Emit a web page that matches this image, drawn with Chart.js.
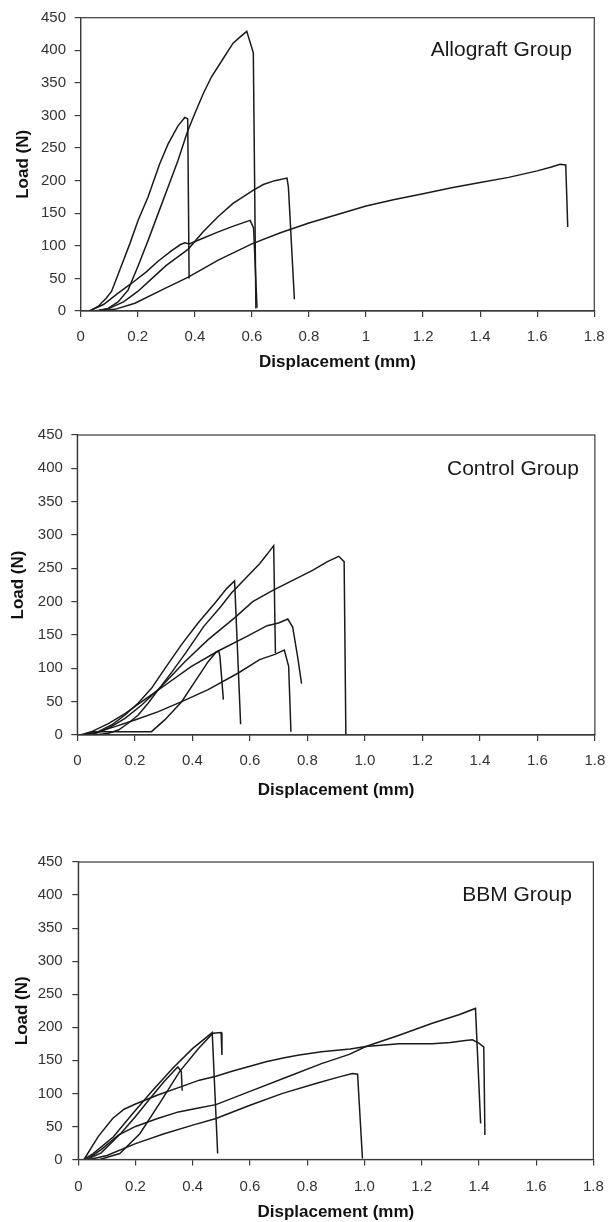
<!DOCTYPE html>
<html>
<head>
<meta charset="utf-8">
<script src="https://cdn.jsdelivr.net/npm/chart.js@4.4.1/dist/chart.umd.min.js"></script>
<style>
  html, body { margin: 0; padding: 0; background: #fff; }
  body { position: relative; width: 616px; height: 1222px; overflow: hidden; }
  canvas { position: absolute; left: 0; }
</style>
</head>
<body>
<canvas id="allograft" width="616" height="390" style="top:0"></canvas>
<canvas id="control" width="616" height="410" style="top:400px"></canvas>
<canvas id="bbm" width="616" height="382" style="top:840px"></canvas>
<script>
// ── tick labels ──
const ALLO_X_TICKS = ['0', '0.2', '0.4', '0.6', '0.8', '1', '1.2', '1.4', '1.6', '1.8']
const GROUP_X_TICKS = ['0', '0.2', '0.4', '0.6', '0.8', '1.0', '1.2', '1.4', '1.6', '1.8']

// ── Allograft group: displacement (mm) / load (N) per specimen ──
const alloA_x = [0.06, 0.096, 0.131, 0.166, 0.2, 0.236, 0.271, 0.306, 0.341, 0.374, 0.4, 0.429, 0.458, 0.499, 0.534, 0.56, 0.582, 0.605, 0.614]
const alloA_y = [0, 4, 14, 32, 68, 108, 149, 190, 231, 275, 303, 333, 359, 387, 411, 421, 429, 396, 4]
const alloB_x = [0.032, 0.061, 0.09, 0.108, 0.137, 0.172, 0.201, 0.236, 0.277, 0.306, 0.341, 0.365, 0.375, 0.38]
const alloB_y = [0, 7, 20, 30, 63, 103, 139, 175, 226, 256, 284, 297, 295, 50]
const alloC_x = [0.03, 0.08, 0.13, 0.18, 0.23, 0.27, 0.32, 0.35, 0.365, 0.38, 0.42, 0.48, 0.54, 0.594, 0.606, 0.618]
const alloC_y = [0, 10, 27, 43, 60, 76, 93, 102, 104.5, 103, 110, 121, 131, 139, 127, 5]
const alloD_x = [0.05, 0.1, 0.15, 0.2, 0.25, 0.3, 0.35, 0.377, 0.43, 0.482, 0.534, 0.604, 0.64, 0.68, 0.723, 0.728, 0.749]
const alloD_y = [0, 4, 14, 30, 50, 70, 86, 95, 122, 145, 165, 185, 194, 200, 204, 190, 18]
const alloE_x = [0.06, 0.12, 0.19, 0.283, 0.377, 0.482, 0.6, 0.7, 0.8, 0.9, 1.0, 1.1, 1.2, 1.3, 1.4, 1.5, 1.6, 1.65, 1.68, 1.7, 1.707]
const alloE_y = [0, 2.5, 12, 32, 52, 78, 103, 120, 135, 148, 161, 171, 180, 189, 197, 205, 215, 221, 225, 224, 129]

// ── Control group ──
const ctrl1_x = [0.01, 0.05, 0.258, 0.305, 0.363, 0.409, 0.455, 0.484, 0.492, 0.496, 0.508]
const ctrl1_y = [0, 5, 5, 23, 50, 80, 110, 125, 126, 118, 53]
const ctrl2_x = [0.027, 0.073, 0.119, 0.166, 0.212, 0.258, 0.305, 0.363, 0.42, 0.479, 0.52, 0.547, 0.568]
const ctrl2_y = [0, 5, 15, 30, 48, 70, 100, 136, 168, 198, 220, 231, 16]
const ctrl3_x = [0.061, 0.108, 0.143, 0.177, 0.212, 0.247, 0.282, 0.33, 0.38, 0.44, 0.5, 0.536, 0.587, 0.634, 0.66, 0.683, 0.689]
const ctrl3_y = [0, 2.5, 7.5, 17.6, 30, 48, 68, 95, 125, 163, 193, 213, 236, 257, 271, 284, 123]
const ctrl4_x = [0.02, 0.061, 0.131, 0.2, 0.282, 0.363, 0.455, 0.56, 0.634, 0.687, 0.72, 0.735, 0.743]
const ctrl4_y = [0, 3.5, 12.6, 22.6, 35, 50, 68, 93, 113, 121, 127.5, 103, 5]
const ctrl5_x = [0.02, 0.05, 0.108, 0.166, 0.224, 0.316, 0.397, 0.49, 0.59, 0.66, 0.7, 0.732, 0.749, 0.766, 0.78]
const ctrl5_y = [0, 5, 17, 32, 50, 78, 103, 126, 148, 164, 168, 174, 162, 118, 77]
const ctrl6_x = [0.05, 0.108, 0.166, 0.224, 0.293, 0.374, 0.455, 0.548, 0.61, 0.68, 0.749, 0.818, 0.87, 0.909, 0.928, 0.934]
const ctrl6_y = [0, 10, 25, 45, 73, 110, 143, 176, 200, 217, 232, 247, 260, 268, 260, 0]

// ── BBM group ──
const bbmA_x = [0.03, 0.08, 0.15, 0.2, 0.25, 0.3, 0.33, 0.348, 0.36, 0.363]
const bbmA_y = [0, 10, 40, 65, 92, 118, 132, 140, 133, 104]
const bbmB_x = [0.02, 0.052, 0.122, 0.191, 0.261, 0.33, 0.4, 0.44, 0.468, 0.487]
const bbmB_y = [0, 9, 34, 70, 105, 138, 168, 182, 192, 9]
const bbmC_x = [0.075, 0.145, 0.215, 0.284, 0.354, 0.42, 0.47, 0.499, 0.502]
const bbmC_y = [0, 9, 39, 85, 133, 168, 191, 192, 158]
const bbmD_x = [0.04, 0.1, 0.2, 0.3, 0.4, 0.481, 0.6, 0.714, 0.83, 0.912, 0.958, 0.976, 0.993]
const bbmD_y = [0, 6, 24, 39, 52, 62, 82, 100, 115, 125, 130, 129, 1.5]
const bbmE_x = [0.03, 0.08, 0.14, 0.2, 0.277, 0.35, 0.42, 0.481, 0.6, 0.743, 0.85, 0.947, 1.005, 1.121, 1.237, 1.33, 1.388, 1.406]
const bbmE_y = [0, 15, 37, 50, 62, 72, 78, 83, 103, 127, 145, 159, 171, 188, 206, 219, 228.5, 54.5]
const bbmF_x = [0.02, 0.07, 0.12, 0.16, 0.2, 0.28, 0.365, 0.423, 0.481, 0.54, 0.6, 0.656, 0.72, 0.772, 0.85, 0.95, 1.005, 1.121, 1.237, 1.3, 1.353, 1.377, 1.4, 1.417, 1.421]
const bbmF_y = [0, 35, 62, 76, 84, 98, 111, 120, 126, 134, 141, 148, 154, 158, 163, 167, 171, 175, 175, 177, 180, 181, 176, 170, 37]

// ── styling ──
const FONT = "'Liberation Sans', Arial, Helvetica, sans-serif"
const LINE = '#1a1a1a'
const AXIS = '#3a3a3a'
const TICK_COLOR = '#333'

function drawPanel(id, curves, p) {
  const frame = {
    id: 'frame',
    afterDraw(chart) {
      const { ctx, chartArea: a } = chart
      ctx.save()
      ctx.strokeStyle = AXIS
      ctx.lineWidth = 1.2
      ctx.strokeRect(a.left, a.top, a.right - a.left, a.bottom - a.top)
      ctx.fillStyle = '#1a1a1a'
      ctx.font = '21px ' + FONT
      ctx.textAlign = 'right'
      ctx.textBaseline = 'alphabetic'
      ctx.fillText(p.label, a.right - p.labelDx, a.top + p.labelDy)
      ctx.restore()
    }
  }

  new Chart(document.getElementById(id), {
    type: 'scatter',
    data: {
      datasets: curves.map(([xs, ys]) => ({
        data: xs.map((x, i) => ({ x, y: ys[i] })),
        showLine: true,
        borderColor: LINE,
        borderWidth: 1.5,
        pointRadius: 0,
        fill: false,
      }))
    },
    options: {
      responsive: false,
      animation: false,
      events: [],
      layout: { padding: { top: p.top, right: p.right, left: 0, bottom: 0 } },
      plugins: { legend: { display: false }, tooltip: { enabled: false } },
      scales: {
        x: {
          type: 'linear', min: 0, max: 1.8,
          afterFit: s => { s.height = p.xHeight },
          grid: { drawOnChartArea: false, drawTicks: true, tickLength: 6, color: AXIS, lineWidth: 1.2 },
          border: { display: true, color: AXIS, width: 1.2 },
          ticks: {
            stepSize: 0.2, autoSkip: false, maxRotation: 0, padding: p.xTickPad,
            color: TICK_COLOR, font: { family: FONT, size: 15 },
            callback: (v, i) => p.xTicks[i]
          },
          title: {
            display: true, text: 'Displacement (mm)', color: '#111',
            font: { family: FONT, size: 17, weight: 'bold', lineHeight: 1 },
            padding: { top: 0, bottom: p.xTitlePad }
          }
        },
        y: {
          type: 'linear', min: 0, max: 450,
          afterFit: s => { s.width = p.yWidth },
          grid: { drawOnChartArea: false, drawTicks: true, tickLength: 6, color: AXIS, lineWidth: 1.2 },
          border: { display: true, color: AXIS, width: 1.2 },
          ticks: { stepSize: 50, padding: p.yTickPad, color: TICK_COLOR, font: { family: FONT, size: 15 } },
          title: {
            display: true, text: 'Load (N)', color: '#111',
            font: { family: FONT, size: 17, weight: 'bold', lineHeight: 1 },
            padding: { top: p.yTitlePad, bottom: 0 }
          }
        }
      }
    },
    plugins: [frame]
  })
}

drawPanel('allograft', [
  [alloA_x, alloA_y], [alloB_x, alloB_y], [alloC_x, alloC_y], [alloD_x, alloD_y], [alloE_x, alloE_y]
], {
  top: 17, right: 19.6, yWidth: 80.7, xHeight: 79,
  xTickPad: 11.3, yTickPad: 8.7, yTitlePad: 15, xTitlePad: 19.5,
  xTicks: ALLO_X_TICKS, label: 'Allograft Group', labelDx: 22.4, labelDy: 38
})

drawPanel('control', [
  [ctrl1_x, ctrl1_y], [ctrl2_x, ctrl2_y], [ctrl3_x, ctrl3_y], [ctrl4_x, ctrl4_y], [ctrl5_x, ctrl5_y], [ctrl6_x, ctrl6_y]
], {
  top: 35, right: 19.8, yWidth: 77.3, xHeight: 75,
  xTickPad: 10.7, yTickPad: 8.4, yTitlePad: 9.5, xTitlePad: 11.5,
  xTicks: GROUP_X_TICKS, label: 'Control Group', labelDx: 16, labelDy: 40
})

drawPanel('bbm', [
  [bbmA_x, bbmA_y], [bbmB_x, bbmB_y], [bbmC_x, bbmC_y], [bbmD_x, bbmD_y], [bbmE_x, bbmE_y], [bbmF_x, bbmF_y]
], {
  top: 22, right: 20.2, yWidth: 78.3, xHeight: 62.5,
  xTickPad: 12.2, yTickPad: 9.6, yTitlePad: 14, xTitlePad: 0.8,
  xTicks: GROUP_X_TICKS, label: 'BBM Group', labelDx: 21.5, labelDy: 39
})
</script>
</body>
</html>
